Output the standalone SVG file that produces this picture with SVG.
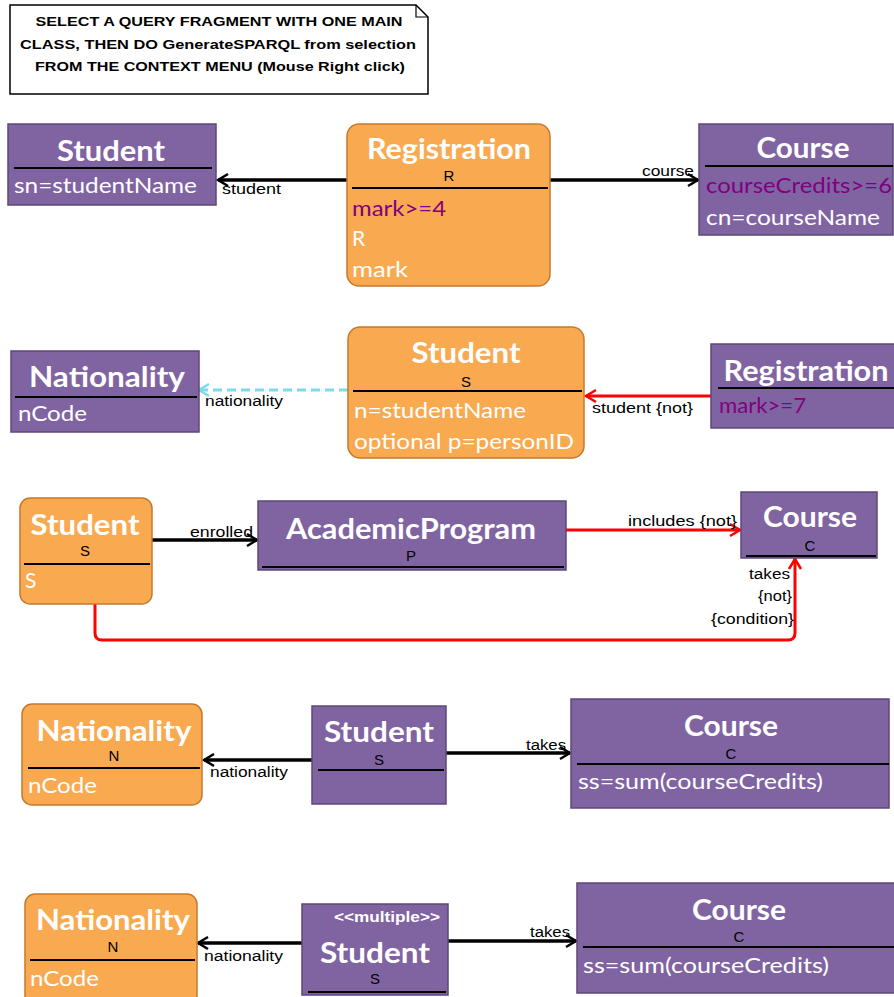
<svg xmlns="http://www.w3.org/2000/svg" width="894" height="997" viewBox="0 0 894 997">
  <style>
    .cls { fill: #8064a2; stroke: #5c4776; stroke-width: 1.5; }
    .sel { fill: #f9aa50; stroke: #c47a2c; stroke-width: 1.5; }
    .sep { stroke: #000; stroke-width: 2; }
    .title { font-family: Lato, "Open Sans", sans-serif; font-weight: bold; font-size: 28px; fill: #fff; text-anchor: middle; }
    .attr { font-family: Lato, "Open Sans", sans-serif; font-size: 21px; fill: #fff; }
    .cond { fill: #800080; }
    .var { font-family: "Liberation Sans", Arial, sans-serif; font-size: 15px; fill: #000; text-anchor: middle; }
    .lbl { font-family: "Liberation Sans", Arial, sans-serif; font-size: 14px; fill: #000; }
    .note { font-family: "Liberation Sans", Arial, sans-serif; font-weight: bold; font-size: 13px; fill: #000; text-anchor: middle; }
    .stereo { font-family: "Liberation Sans", Arial, sans-serif; font-weight: bold; font-size: 14px; fill: #fff; text-anchor: middle; }
    .edge { fill: none; stroke: #000; stroke-width: 3.5; }
    .neg { fill: none; stroke: #ff0000; stroke-width: 3; }
    .opt { fill: none; stroke: #7fd9ec; stroke-width: 3; stroke-dasharray: 9 5; }
  </style>
  <defs>
    <marker id="arrowBlack" viewBox="-12 -8 14 16" refX="0" refY="0" markerWidth="14" markerHeight="16" markerUnits="userSpaceOnUse" orient="auto">
      <path d="M-10,-6 L0,0 L-10,6" fill="none" stroke="#000" stroke-width="2.5"/>
    </marker>
    <marker id="arrowRed" viewBox="-12 -8 14 16" refX="0" refY="0" markerWidth="14" markerHeight="16" markerUnits="userSpaceOnUse" orient="auto">
      <path d="M-10,-6 L0,0 L-10,6" fill="none" stroke="#ff0000" stroke-width="2.5"/>
    </marker>
    <marker id="arrowBlue" viewBox="-12 -8 14 16" refX="0" refY="0" markerWidth="14" markerHeight="16" markerUnits="userSpaceOnUse" orient="auto">
      <path d="M-10,-6 L0,0 L-10,6" fill="none" stroke="#7fd9ec" stroke-width="2.5"/>
    </marker>
  </defs>

  <rect width="894" height="997" fill="#fff"/>

  <!-- instruction note -->
  <g id="note">
    <path d="M10,5 L416,5 L428,17 L428,94 L10,94 Z" fill="#fff" stroke="#000" stroke-width="1.5"/>
    <path d="M416,5 L416,17 L428,17" fill="none" stroke="#000" stroke-width="1.2"/>
    <text class="note" x="219" y="26" textLength="367" lengthAdjust="spacingAndGlyphs">SELECT A QUERY FRAGMENT WITH ONE MAIN</text>
    <text class="note" x="218" y="49" textLength="396" lengthAdjust="spacingAndGlyphs">CLASS, THEN DO GenerateSPARQL from selection</text>
    <text class="note" x="220" y="71" textLength="370" lengthAdjust="spacingAndGlyphs">FROM THE CONTEXT MENU (Mouse Right click)</text>
  </g>

  <!-- connectors -->
  <g id="connectors">
    <!-- row 1 -->
    <line class="edge" x1="347" y1="180" x2="218" y2="180" marker-end="url(#arrowBlack)"/>
    <line class="edge" x1="550" y1="180" x2="698" y2="180" marker-end="url(#arrowBlack)"/>
    <!-- row 2 -->
    <line class="opt" x1="348" y1="390" x2="199" y2="390" marker-end="url(#arrowBlue)"/>
    <line class="neg" x1="711" y1="396" x2="586" y2="396" marker-end="url(#arrowRed)"/>
    <!-- row 3 -->
    <line class="edge" x1="152" y1="540" x2="257" y2="540" marker-end="url(#arrowBlack)"/>
    <line class="neg" x1="566" y1="530" x2="740" y2="530" marker-end="url(#arrowRed)"/>
    <path class="neg" d="M95,604 L95,633 Q95,640 102,640 L788,640 Q795,640 795,633 L795,559" marker-end="url(#arrowRed)"/>
    <!-- row 4 -->
    <line class="edge" x1="312" y1="760" x2="204" y2="760" marker-end="url(#arrowBlack)"/>
    <line class="edge" x1="446" y1="753" x2="570" y2="753" marker-end="url(#arrowBlack)"/>
    <!-- row 5 -->
    <line class="edge" x1="302" y1="943" x2="198" y2="943" marker-end="url(#arrowBlack)"/>
    <line class="edge" x1="448" y1="941" x2="576" y2="941" marker-end="url(#arrowBlack)"/>

    <!-- connector labels -->
    <text class="lbl" x="222" y="194" textLength="59" lengthAdjust="spacingAndGlyphs">student</text>
    <text class="lbl" x="642" y="176" textLength="52" lengthAdjust="spacingAndGlyphs">course</text>
    <text class="lbl" x="205" y="406" textLength="78" lengthAdjust="spacingAndGlyphs">nationality</text>
    <text class="lbl" x="592" y="413" textLength="101" lengthAdjust="spacingAndGlyphs">student {not}</text>
    <text class="lbl" x="190" y="537" textLength="63" lengthAdjust="spacingAndGlyphs">enrolled</text>
    <text class="lbl" x="628" y="526" textLength="109" lengthAdjust="spacingAndGlyphs">includes  {not}</text>
    <text class="lbl" x="749" y="579" textLength="41" lengthAdjust="spacingAndGlyphs">takes</text>
    <text class="lbl" x="758" y="601" textLength="34" lengthAdjust="spacingAndGlyphs">{not}</text>
    <text class="lbl" x="711" y="624" textLength="83" lengthAdjust="spacingAndGlyphs">{condition}</text>
    <text class="lbl" x="210" y="777" textLength="78" lengthAdjust="spacingAndGlyphs">nationality</text>
    <text class="lbl" x="526" y="750" textLength="40" lengthAdjust="spacingAndGlyphs">takes</text>
    <text class="lbl" x="204" y="961" textLength="79" lengthAdjust="spacingAndGlyphs">nationality</text>
    <text class="lbl" x="530" y="937" textLength="40" lengthAdjust="spacingAndGlyphs">takes</text>
  </g>

  <!-- row 1 -->
  <g id="student1">
    <rect class="cls" x="8" y="124" width="208" height="81"/>
    <text class="title" x="111" y="161" textLength="108" lengthAdjust="spacingAndGlyphs">Student</text>
    <line class="sep" x1="14" y1="168" x2="212" y2="168"/>
    <text class="attr" x="14" y="193" textLength="183" lengthAdjust="spacingAndGlyphs">sn=studentName</text>
  </g>
  <g id="registration1">
    <rect class="sel" x="347" y="124" width="203" height="162" rx="12"/>
    <text class="title" x="449" y="159" textLength="164" lengthAdjust="spacingAndGlyphs">Registration</text>
    <text class="var" x="449" y="181">R</text>
    <line class="sep" x1="352" y1="188" x2="548" y2="188"/>
    <text class="attr cond" x="352" y="216" textLength="94" lengthAdjust="spacingAndGlyphs">mark&gt;=4</text>
    <text class="attr" x="352" y="246">R</text>
    <text class="attr" x="352" y="277" textLength="56" lengthAdjust="spacingAndGlyphs">mark</text>
  </g>
  <g id="course1">
    <rect class="cls" x="699" y="124" width="194" height="111"/>
    <text class="title" x="803" y="158" textLength="93" lengthAdjust="spacingAndGlyphs">Course</text>
    <line class="sep" x1="705" y1="166" x2="893" y2="166"/>
    <text class="attr cond" x="706" y="193" textLength="186" lengthAdjust="spacingAndGlyphs">courseCredits&gt;=6</text>
    <text class="attr" x="706" y="225" textLength="174" lengthAdjust="spacingAndGlyphs">cn=courseName</text>
  </g>

  <!-- row 2 -->
  <g id="nationality2">
    <rect class="cls" x="11" y="351" width="188" height="81"/>
    <text class="title" x="107" y="387" textLength="156" lengthAdjust="spacingAndGlyphs">Nationality</text>
    <line class="sep" x1="15" y1="397" x2="197" y2="397"/>
    <text class="attr" x="18" y="421" textLength="69" lengthAdjust="spacingAndGlyphs">nCode</text>
  </g>
  <g id="student2">
    <rect class="sel" x="348" y="327" width="236" height="131" rx="12"/>
    <text class="title" x="466" y="363" textLength="109" lengthAdjust="spacingAndGlyphs">Student</text>
    <text class="var" x="466" y="387">S</text>
    <line class="sep" x1="353" y1="391" x2="582" y2="391"/>
    <text class="attr" x="354" y="418" textLength="172" lengthAdjust="spacingAndGlyphs">n=studentName</text>
    <text class="attr" x="354" y="449" textLength="220" lengthAdjust="spacingAndGlyphs">optional p=personID</text>
  </g>
  <g id="registration2">
    <rect class="cls" x="711" y="344" width="190" height="84"/>
    <text class="title" x="806" y="381" textLength="165" lengthAdjust="spacingAndGlyphs">Registration</text>
    <line class="sep" x1="718" y1="388" x2="894" y2="388"/>
    <text class="attr cond" x="719" y="413" textLength="87" lengthAdjust="spacingAndGlyphs">mark&gt;=7</text>
  </g>

  <!-- row 3 -->
  <g id="student3">
    <rect class="sel" x="20" y="498" width="132" height="106" rx="10"/>
    <text class="title" x="85" y="535" textLength="109" lengthAdjust="spacingAndGlyphs">Student</text>
    <text class="var" x="85" y="556">S</text>
    <line class="sep" x1="24" y1="564" x2="150" y2="564"/>
    <text class="attr" x="25" y="588">S</text>
  </g>
  <g id="academicProgram3">
    <rect class="cls" x="258" y="501" width="308" height="69"/>
    <text class="title" x="411" y="539" textLength="250" lengthAdjust="spacingAndGlyphs">AcademicProgram</text>
    <text class="var" x="411" y="561">P</text>
    <line class="sep" x1="262" y1="567" x2="564" y2="567"/>
  </g>
  <g id="course3">
    <rect class="cls" x="741" y="492" width="136" height="66"/>
    <text class="title" x="810" y="527" textLength="94" lengthAdjust="spacingAndGlyphs">Course</text>
    <text class="var" x="810" y="551">C</text>
    <line class="sep" x1="746" y1="556" x2="876" y2="556"/>
  </g>

  <!-- row 4 -->
  <g id="nationality4">
    <rect class="sel" x="22" y="704" width="180" height="101" rx="10"/>
    <text class="title" x="114" y="741" textLength="155" lengthAdjust="spacingAndGlyphs">Nationality</text>
    <text class="var" x="114" y="761">N</text>
    <line class="sep" x1="28" y1="768" x2="200" y2="768"/>
    <text class="attr" x="28" y="793" textLength="69" lengthAdjust="spacingAndGlyphs">nCode</text>
  </g>
  <g id="student4">
    <rect class="cls" x="312" y="706" width="134" height="98"/>
    <text class="title" x="379" y="742" textLength="110" lengthAdjust="spacingAndGlyphs">Student</text>
    <text class="var" x="379" y="765">S</text>
    <line class="sep" x1="318" y1="770" x2="444" y2="770"/>
  </g>
  <g id="course4">
    <rect class="cls" x="571" y="699" width="318" height="109"/>
    <text class="title" x="731" y="736" textLength="94" lengthAdjust="spacingAndGlyphs">Course</text>
    <text class="var" x="731" y="759">C</text>
    <line class="sep" x1="577" y1="764" x2="889" y2="764"/>
    <text class="attr" x="578" y="789" textLength="245" lengthAdjust="spacingAndGlyphs">ss=sum(courseCredits)</text>
  </g>

  <!-- row 5 -->
  <g id="nationality5">
    <rect class="sel" x="25" y="894" width="172" height="112" rx="10"/>
    <text class="title" x="113" y="930" textLength="154" lengthAdjust="spacingAndGlyphs">Nationality</text>
    <text class="var" x="113" y="952">N</text>
    <line class="sep" x1="30" y1="960" x2="195" y2="960"/>
    <text class="attr" x="30" y="986" textLength="69" lengthAdjust="spacingAndGlyphs">nCode</text>
  </g>
  <g id="student5">
    <rect class="cls" x="302" y="904" width="146" height="91"/>
    <text class="stereo" x="387" y="922" textLength="106" lengthAdjust="spacingAndGlyphs">&lt;&lt;multiple&gt;&gt;</text>
    <text class="title" x="375" y="963" textLength="110" lengthAdjust="spacingAndGlyphs">Student</text>
    <text class="var" x="375" y="984">S</text>
    <line class="sep" x1="308" y1="992" x2="446" y2="992"/>
  </g>
  <g id="course5">
    <rect class="cls" x="577" y="883" width="320" height="110"/>
    <text class="title" x="739" y="920" textLength="94" lengthAdjust="spacingAndGlyphs">Course</text>
    <text class="var" x="739" y="942">C</text>
    <line class="sep" x1="583" y1="947" x2="894" y2="947"/>
    <text class="attr" x="583" y="973" textLength="246" lengthAdjust="spacingAndGlyphs">ss=sum(courseCredits)</text>
  </g>
</svg>
